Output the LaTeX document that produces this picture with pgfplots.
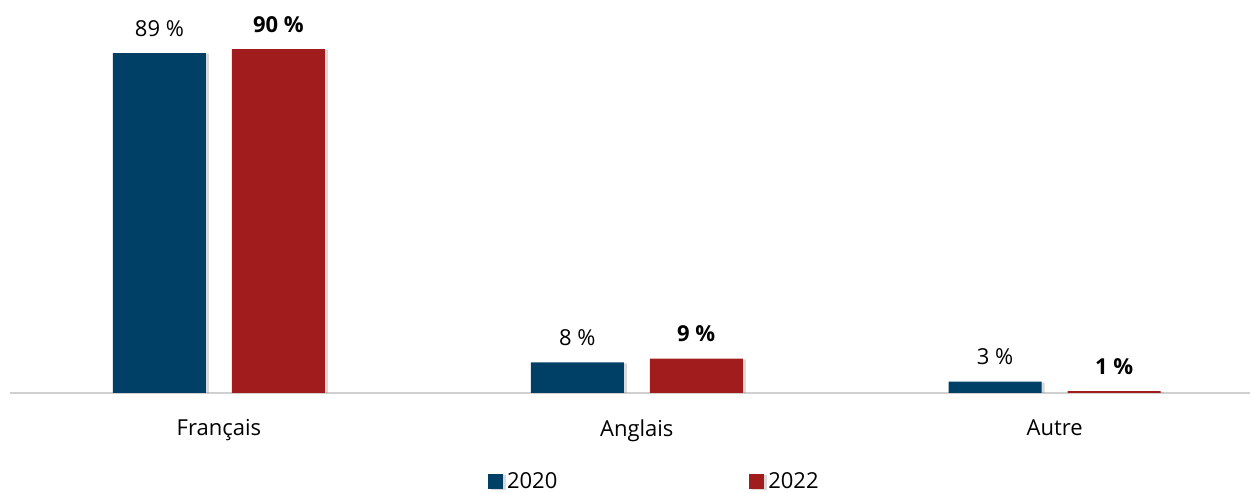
\documentclass[border=0pt]{standalone}
\usepackage{fontspec}
\setmainfont{Open Sans}
\usepackage{pgfplots}
\pgfplotsset{compat=1.18}
\usetikzlibrary{shadows}

\definecolor{bleu}{HTML}{003F66}
\definecolor{rouge}{HTML}{A11C1C}
\definecolor{axe}{HTML}{D0D0D0}

\begin{document}
\fontsize{11}{13.2}\selectfont
\begin{tikzpicture}
    \begin{axis}[
        at={(5pt,50pt)},
        anchor=south west,
        scale only axis,
        width=620.5pt,
        height=191pt,
        ybar=13pt,
        bar width=46.5pt,
        xmin=-0.5, xmax=2.47,
        ymin=0, ymax=100,
        axis y line=none,
        axis x line*=bottom,
        x axis line style={draw=axe, line width=1pt},
        xtick=data,
        xticklabels={Français, Anglais, Autre},
        major tick length=0pt,
        xticklabel style={yshift=-9.5pt, font=\fontsize{11}{13.2}\selectfont},
        point meta=explicit symbolic,
        nodes near coords,
        nodes near coords style={yshift=4.5pt, font=\fontsize{11}{13.2}\selectfont},
        legend columns=2,
        legend style={at={(axis description cs:0.52,0)}, anchor=center, yshift=-44.5pt,
            draw=none, fill=none, font=\fontsize{11}{13.2}\selectfont,
            /tikz/every even column/.append style={column sep=94pt}},
        legend image code/.code={\fill[#1] (0pt,-3.75pt) rectangle (7.5pt,3.75pt);},
    ]
        \addplot[fill=bleu, draw=none,
            drop shadow={shadow xshift=1.5pt, shadow yshift=-0.5pt, opacity=0.3}]
            coordinates {(0,89) [89 \%] (1,8) [8 \%] (2,3) [3 \%]};
        \addlegendentry{2020}
        \addplot[fill=rouge, draw=none,
            drop shadow={shadow xshift=1.5pt, shadow yshift=-0.5pt, opacity=0.3},
            nodes near coords style={font=\fontsize{11}{13.2}\selectfont\bfseries}]
            coordinates {(0,90) [90 \%] (1,9) [9 \%] (2,0.5) [1 \%]};
        \addlegendentry{2022}
    \end{axis}
    \pgfresetboundingbox
    \useasboundingbox (0,0) rectangle (625pt,246.5pt);
\end{tikzpicture}
\end{document}
